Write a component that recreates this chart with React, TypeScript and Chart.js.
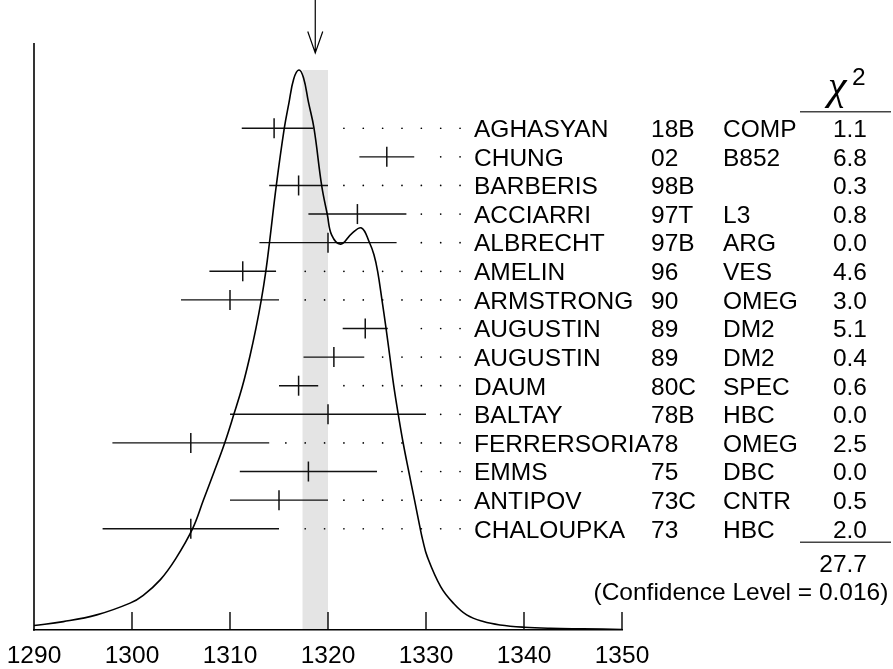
import React, { useEffect, useRef } from "react";
import { Chart, registerables } from "chart.js";

Chart.register(...registerables);

// ---- data ----
const authors = ["AGHASYAN", "CHUNG", "BARBERIS", "ACCIARRI", "ALBRECHT", "AMELIN", "ARMSTRONG", "AUGUSTIN", "AUGUSTIN", "DAUM", "BALTAY", "FERRERSORIA", "EMMS", "ANTIPOV", "CHALOUPKA"];
const years = ["18B", "02", "98B", "97T", "97B", "96", "90", "89", "89", "80C", "78B", "78", "75", "73C", "73"];
const experiments = ["COMP", "B852", "", "L3", "ARG", "VES", "OMEG", "DM2", "DM2", "SPEC", "HBC", "OMEG", "DBC", "CNTR", "HBC"];
const chi2 = ["1.1", "6.8", "0.3", "0.8", "0.0", "4.6", "3.0", "5.1", "0.4", "0.6", "0.0", "2.5", "0.0", "0.5", "2.0"];
const chi2Total = "27.7";
const confidenceLevel = "0.016";

const masses = [1314.5, 1326.0, 1317.0, 1323.0, 1320.0, 1311.3, 1310.0, 1323.8, 1320.6, 1317.0, 1320.0, 1306.0, 1318.0, 1315.0, 1306.0];
const errMinus = [3.3, 2.8, 3.0, 5.0, 7.0, 3.4, 5.0, 2.3, 3.1, 2.0, 10.0, 8.0, 7.0, 5.0, 9.0];
const errPlus = [4.0, 2.8, 3.0, 5.0, 7.0, 3.4, 5.0, 2.3, 3.1, 2.0, 10.0, 8.0, 7.0, 5.0, 9.0];

const fitMean = 1318.7;
const fitError = 1.3;

const xTicks = [1290, 1300, 1310, 1320, 1330, 1340, 1350];

// ideogram curve (relative height, peak = 100)
const curveX = [1290.0, 1293.0, 1296.4, 1299.8, 1301.15, 1302.9, 1304.45, 1306.16, 1307.29, 1308.39, 1309.44, 1310.41, 1311.28, 1312.02, 1312.65, 1313.19, 1313.65, 1314.03, 1314.72, 1315.54, 1316.0, 1316.5, 1317.03, 1317.5, 1318.0, 1318.57, 1319.36, 1319.93, 1320.38, 1321.3, 1322.42, 1323.42, 1324.23, 1324.69, 1325.07, 1325.51, 1325.92, 1326.31, 1326.71, 1327.17, 1327.68, 1328.24, 1328.83, 1329.42, 1329.66, 1330.13, 1331.51, 1332.79, 1334.15, 1335.85, 1337.55, 1340.0, 1342.7, 1346.0, 1350.0];
const curveY = [0.8, 1.5, 2.7, 4.8, 6.2, 9.0, 12.7, 18.0, 23.2, 28.3, 33.3, 38.6, 43.6, 48.8, 53.9, 58.9, 64.0, 69.2, 79.3, 89.6, 94.0, 98.4, 100, 98.6, 94.3, 89.6, 79.3, 74.2, 70.5, 68.9, 70.8, 71.8, 69.2, 67.0, 64.0, 58.9, 53.9, 48.8, 43.6, 38.5, 33.3, 28.3, 23.2, 18.0, 16.1, 13.1, 7.7, 4.8, 2.7, 1.5, 0.9, 0.5, 0.3, 0.2, 0.1];

// dotted leader grid (mass units)
const leaderStart = 1315.7;
const leaderStep = 1.975;
const leaderEnd = 1333.6;
const leaderGap = 1.45;

const FONT = "'Liberation Sans', Arial, Helvetica, sans-serif";
const FS = 24.5;

const decor = {
  id: "decor",
  beforeDatasetsDraw(chart: any) {
    const { ctx, chartArea, scales } = chart;
    const x = scales.x;
    const y = scales.y;
    const l = x.getPixelForValue(fitMean - fitError);
    const r = x.getPixelForValue(fitMean + fitError);
    const t = y.getPixelForValue(Math.max(...curveY));
    ctx.save();
    ctx.fillStyle = "#e4e4e4";
    ctx.fillRect(l, t, r - l, chartArea.bottom - 1 - t);
    ctx.restore();
  },
  afterDraw(chart: any) {
    const { ctx, chartArea, scales } = chart;
    const x = scales.x;
    const yr = scales.yr;
    ctx.save();
    ctx.strokeStyle = "#000";
    ctx.fillStyle = "#000";

    // vertical axis line
    ctx.lineWidth = 1.6;
    ctx.beginPath();
    ctx.moveTo(chartArea.left, chartArea.top);
    ctx.lineTo(chartArea.left, chartArea.bottom + 0.8);
    ctx.stroke();

    // inward ticks
    ctx.lineWidth = 1.4;
    xTicks.slice(1).forEach((v) => {
      const px = x.getPixelForValue(v);
      ctx.beginPath();
      ctx.moveTo(px, chartArea.bottom);
      ctx.lineTo(px, chartArea.bottom - 18);
      ctx.stroke();
    });

    // tick labels
    ctx.font = `${FS}px ${FONT}`;
    ctx.textAlign = "center";
    ctx.textBaseline = "alphabetic";
    xTicks.forEach((v) => {
      ctx.fillText(String(v), x.getPixelForValue(v), chartArea.bottom + 33.3);
    });

    // arrow at fitted mean
    const ax = x.getPixelForValue(fitMean);
    ctx.lineWidth = 1.2;
    ctx.beginPath();
    ctx.moveTo(ax, 0);
    ctx.lineTo(ax, 53);
    ctx.moveTo(ax - 7.5, 31.5);
    ctx.lineTo(ax, 53);
    ctx.lineTo(ax + 7.5, 31.5);
    ctx.stroke();

    // table text
    ctx.font = `${FS}px ${FONT}`;
    authors.forEach((name, i) => {
      const by = yr.getPixelForValue(i) + 8.8;
      ctx.textAlign = "left";
      ctx.fillText(name, 474, by);
      ctx.fillText(years[i], 651, by);
      if (experiments[i]) ctx.fillText(experiments[i], 723, by);
      ctx.textAlign = "right";
      ctx.fillText(chi2[i], 867, by);
    });

    // chi^2 header
    ctx.textAlign = "left";
    ctx.font = `italic 42px 'Liberation Serif', 'DejaVu Serif', serif`;
    ctx.fillText("\u03c7", 828, 99);
    ctx.font = `${FS}px ${FONT}`;
    ctx.fillText("2", 852, 85);

    ctx.strokeStyle = "#444";
    ctx.lineWidth = 1.6;
    ctx.beginPath();
    ctx.moveTo(800, 111.7);
    ctx.lineTo(891, 111.7);
    ctx.moveTo(800, 542.3);
    ctx.lineTo(891, 542.3);
    ctx.stroke();

    ctx.textAlign = "right";
    ctx.fillText(chi2Total, 867, 571.7);
    ctx.textAlign = "left";
    ctx.fillText(`(Confidence Level = ${confidenceLevel})`, 593.5, 600);
    ctx.restore();
  },
};

export default function App() {
  const ref = useRef<HTMLCanvasElement | null>(null);

  useEffect(() => {
    if (!ref.current) return;

    const barSets = masses.map((m, i) => ({
      type: "line" as const,
      data: [
        { x: m - errMinus[i], y: i },
        { x: m + errPlus[i], y: i },
      ],
      yAxisID: "yr",
      borderColor: "#111",
      borderWidth: 1.4,
      pointRadius: 0,
      tension: 0,
      fill: false,
    }));

    const dots: { x: number; y: number }[] = [];
    masses.forEach((m, i) => {
      const hi = m + errPlus[i];
      for (let g = leaderStart; g <= leaderEnd; g += leaderStep) {
        if (g > hi + leaderGap) dots.push({ x: g, y: i });
      }
    });

    const chart = new Chart(ref.current, {
      type: "line",
      data: {
        datasets: [
          {
            type: "line",
            data: curveX.map((v, i) => ({ x: v, y: curveY[i] })),
            yAxisID: "y",
            borderColor: "#000",
            borderWidth: 1.6,
            pointRadius: 0,
            tension: 0.4,
            fill: false,
          } as any,
          ...barSets,
          {
            type: "scatter",
            data: masses.map((m, i) => ({ x: m, y: i })),
            yAxisID: "yr",
            pointStyle: "line",
            rotation: 90,
            pointRadius: 10,
            borderWidth: 1.5,
            borderColor: "#111",
          } as any,
          {
            type: "scatter",
            data: dots,
            yAxisID: "yr",
            pointStyle: "circle",
            pointRadius: 0.85,
            borderWidth: 0,
            backgroundColor: "#000",
          } as any,
        ],
      },
      options: {
        animation: false,
        responsive: false,
        maintainAspectRatio: false,
        devicePixelRatio: 1,
        events: [],
        layout: { padding: { left: 34, right: 271, top: 43, bottom: 39 } },
        plugins: {
          legend: { display: false },
          tooltip: { enabled: false },
        },
        scales: {
          x: {
            type: "linear",
            position: "bottom",
            min: 1290,
            max: 1350,
            afterBuildTicks: (axis: any) => {
              axis.ticks = xTicks.map((v) => ({ value: v }));
            },
            grid: { display: true, drawOnChartArea: false, drawTicks: false },
            border: { display: true, color: "#000", width: 1.6 },
            ticks: { display: false },
          },
          y: { type: "linear", display: false, min: 0, max: 104.82 },
          yr: { type: "linear", display: false, min: -2.98, max: 17.54, reverse: true },
        },
      } as any,
      plugins: [decor],
    });

    return () => chart.destroy();
  }, []);

  return (
    <div style={{ position: "absolute", left: 0, top: 0, width: 893, height: 669, background: "#fff" }}>
      <canvas ref={ref} width={893} height={669} />
    </div>
  );
}
